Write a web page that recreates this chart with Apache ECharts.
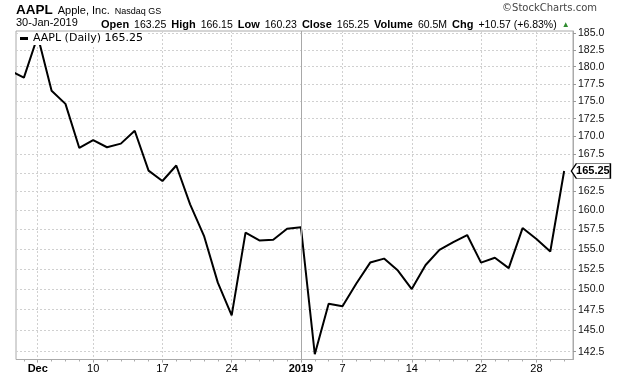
<!DOCTYPE html>
<html><head><meta charset="utf-8">
<script src="https://cdn.jsdelivr.net/npm/echarts@6/dist/echarts.min.js"></script>
<style>html,body{margin:0;padding:0;background:#fff}#c{width:620px;height:376px}</style>
</head><body><div id="c"></div>
<script>
const dates = ['2018-11-29','2018-11-30','2018-12-03','2018-12-04','2018-12-06','2018-12-07','2018-12-10','2018-12-11','2018-12-12','2018-12-13','2018-12-14','2018-12-17','2018-12-18','2018-12-19','2018-12-20','2018-12-21','2018-12-24','2018-12-26','2018-12-27','2018-12-28','2018-12-31','2019-01-02','2019-01-03','2019-01-04','2019-01-07','2019-01-08','2019-01-09','2019-01-10','2019-01-11','2019-01-14','2019-01-15','2019-01-16','2019-01-17','2019-01-18','2019-01-22','2019-01-23','2019-01-24','2019-01-25','2019-01-28','2019-01-29','2019-01-30'];
const closes = [179.4,178.4,184.6,176.5,174.6,168.4,169.5,168.5,169.0,170.8,165.3,163.9,166.0,160.8,156.7,150.8,146.8,157.1,156.1,156.2,157.6,157.8,142.2,148.2,147.9,150.7,153.3,153.8,152.3,150.0,153.0,154.9,155.9,156.8,153.3,153.9,152.6,157.7,156.3,154.7,165.25];
const xTickDates = ['2018-12-03','2018-12-10','2018-12-17','2018-12-24','2019-01-02','2019-01-07','2019-01-14','2019-01-22','2019-01-28'];
const xTickLabels = ['Dec','10','17','24','2019','7','14','22','28'];
const boldLabels = ['Dec','2019'];
const yTicks = [142.5,145,147.5,150,152.5,155,157.5,160,162.5,165,167.5,170,172.5,175,177.5,180,182.5,185];
const statLabels = ['Open','High','Low','Close','Volume','Chg'];
const statValues = ['163.25','166.15','160.23','165.25','60.5M','+10.57 (+6.83%)'];
const symbolName = 'AAPL';
const companyName = 'Apple, Inc.';
const exchangeName = 'Nasdaq GS';
const dateText = '30-Jan-2019';

const chart = echarts.init(document.getElementById('c'), null, {renderer:'canvas'});
const xIdx = xTickDates.map(d => dates.indexOf(d));
const labelMap = {}; xIdx.forEach((ix,k) => labelMap[ix] = xTickLabels[k]);
const yearIdx = dates.indexOf('2019-01-02');
const last = closes[closes.length-1];
const X_MIN = 0.43, X_MAX = 40.64;
const statText = statLabels.map((l,i) => `{b|${l}} {v|${statValues[i]}}`).join(' ') + ' {up|▲}';
const grid = {color:'#d0d0d0', type:[2,2]};

const option = {
  animation:false,
  textStyle:{fontFamily:'Arial, "Liberation Sans", sans-serif'},
  title:[
    {left:16, top:1, padding:0, text:`{t|${symbolName}} {n|${companyName}} {s|${exchangeName}}`,
     textStyle:{rich:{t:{fontSize:13.5,fontWeight:'bold',color:'#000'},
                      n:{fontSize:11,fontWeight:'normal',color:'#000',padding:[2,0,0,0]},
                      s:{fontSize:9,fontWeight:'normal',color:'#000',padding:[3,0,0,0]}}}},
    {left:16, top:17, padding:0, text:dateText, textStyle:{fontSize:11,fontWeight:'normal',color:'#000'}},
    {left:101, top:16, padding:0, text:statText,
     textStyle:{rich:{b:{fontSize:11,fontWeight:'bold',color:'#000'}, v:{fontSize:10.5,fontWeight:'normal',color:'#000'}, up:{fontSize:8,fontWeight:'normal',color:'#2e8b2e'}}}},
    {right:23, top:3, padding:0, text:'©StockCharts.com', textStyle:{fontSize:10,fontWeight:'normal',color:'#444',fontFamily:'DejaVu Sans'}}
  ],
  legend:{left:18, top:32, padding:[1,3,1,2], backgroundColor:'#fff', icon:'rect', itemWidth:8, itemHeight:3,
    formatter: n => `${n} (Daily) ${last.toFixed(2)}`,
    textStyle:{fontFamily:'DejaVu Sans', fontSize:11, color:'#000'}},
  grid:{left:16, right:47, top:31, bottom:16.5, show:true, borderColor:'#aaa', borderWidth:1},
  xAxis:[
    {type:'value', min:X_MIN, max:X_MAX, axisLine:{show:false},
     axisTick:{show:true, customValues:xIdx, length:3, lineStyle:{color:'#999'}},
     axisLabel:{customValues:xIdx, margin:4, color:'#000', fontSize:11,
       formatter: v => { const s = labelMap[Math.round(v)]; return boldLabels.includes(s) ? `{b|${s}}` : s; },
       rich:{b:{fontWeight:'bold', fontSize:11, color:'#000'}}},
     splitLine:{show:true, lineStyle:grid}},
    {type:'value', min:X_MIN, max:X_MAX, position:'bottom', axisLine:{show:false}, axisLabel:{show:false}, splitLine:{show:false},
     axisTick:{show:true, customValues:dates.map((d,i)=>i), length:2, lineStyle:{color:'#aaa'}}}
  ],
  yAxis:{type:'log', logBase:10, min:141.59, max:185.35, position:'right',
    axisLine:{show:true, lineStyle:{color:'#aaa'}},
    axisTick:{show:true, customValues:yTicks, length:3, lineStyle:{color:'#999'}},
    axisLabel:{customValues:yTicks, formatter: v => Number(v).toFixed(1), color:'#111', fontSize:10.5, margin:5},
    splitLine:{show:true, lineStyle:grid}},
  series:[{
    name:symbolName, type:'line', data:closes.map((v,i)=>[i,v]), symbol:'none', clip:true,
    lineStyle:{color:'#000', width:2}, itemStyle:{color:'#000'},
    markLine:{silent:true, symbol:'none', label:{show:false}, lineStyle:{color:'#a8a8a8', type:'solid', width:1}, data:[{xAxis:yearIdx}]},
    markPoint:{silent:true, data:[{coord:[X_MAX-0.01, last], value:last}],
      symbol:'path://M0,7.5 L5,0 L39,0 L39,15 L5,15 Z', symbolSize:[39,15], symbolOffset:[18,0],
      itemStyle:{color:'#fff', borderColor:'#000', borderWidth:1},
      label:{show:true, position:'inside', offset:[2,0], formatter: p => Number(p.value).toFixed(2), fontWeight:'bold', fontSize:11, color:'#000'}}
  }]
};
chart.setOption(option);
</script></body></html>
